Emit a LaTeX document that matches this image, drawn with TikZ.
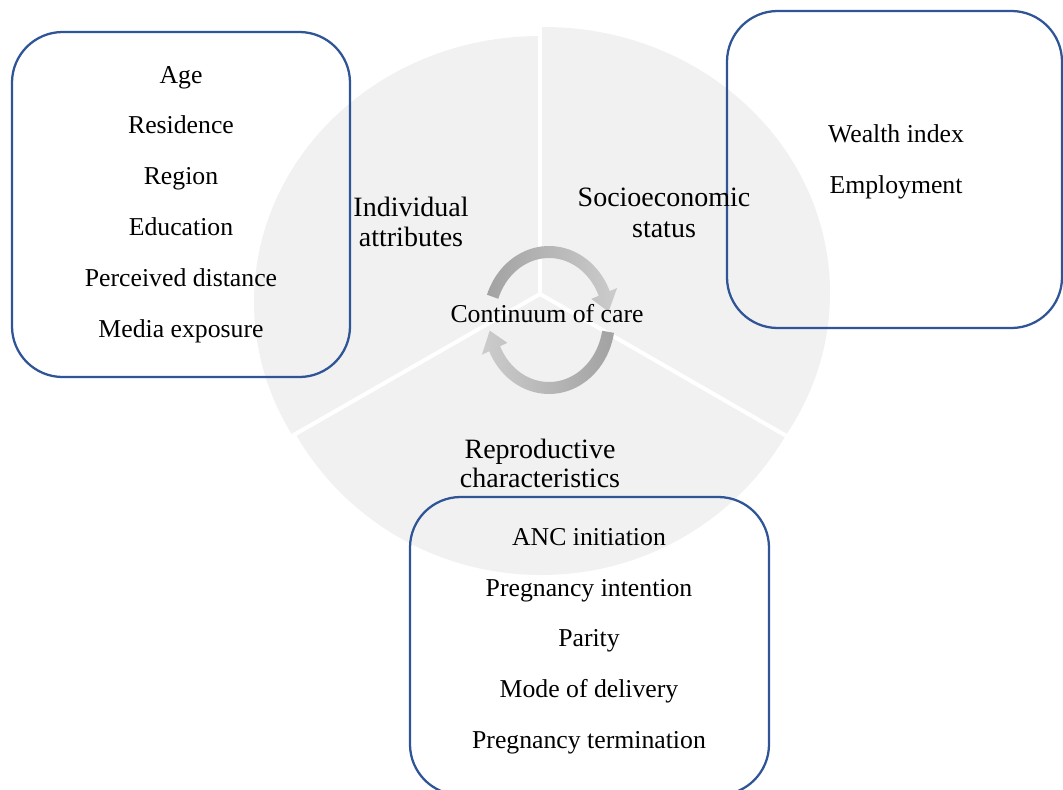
\documentclass[tikz,border=0pt]{standalone}
\usepackage{fontspec}
\setmainfont{Liberation Serif}
\definecolor{pie}{RGB}{241,241,241}
\definecolor{frame}{RGB}{47,85,151}
\definecolor{arrowdark}{RGB}{162,162,162}
\definecolor{arrowlight}{RGB}{204,204,204}

\begin{document}
\begin{tikzpicture}[x=0.75pt,y=-0.75pt,
  factorbox/.style={draw=frame, line width=1.7pt, rounded corners=38pt, inner sep=0pt},
  item/.style={anchor=base, font=\fontsize{19.3}{23}\selectfont, inner sep=0pt},
  sectorlabel/.style={anchor=base, font=\fontsize{21}{25}\selectfont, inner sep=0pt},
  divider/.style={white, line width=3pt},
]
\useasboundingbox (0,0) rectangle (1063,789);

% pie centre and divider ends
\coordinate (apex) at (540,294);
\coordinate (topend) at (540,0);
\coordinate (leftend) at (250,460);
\coordinate (rightend) at (830,461);

% three sectors of the pie
\begin{scope}
  \clip (apex) -- (540,-200) -- (-200,-200) -- (-200,721) -- cycle;
  \fill[pie] (540,302) ellipse [x radius=286, y radius=266];
\end{scope}
\begin{scope}
  \clip (apex) -- (540,-200) -- (1300,-200) -- (1300,733) -- cycle;
  \fill[pie] (544,293) ellipse [x radius=286, y radius=266];
\end{scope}
\begin{scope}
  \clip (apex) -- (-200,721) -- (-200,1200) -- (1300,1200) -- (1300,733) -- cycle;
  \fill[pie] (541,300) ellipse [x radius=281, y radius=275];
\end{scope}
\draw[divider] (apex) -- (topend);
\draw[divider] (apex) -- (leftend);
\draw[divider] (apex) -- (rightend);

% circular arrows around the centre
\shade[left color=arrowdark, right color=arrowlight]
  plot[domain=200:337, samples=40] ({549+66*cos(\x)}, {320+74*sin(\x)})
  -- ({549+74*cos(337)}, {320+82*sin(337)})
  -- ({549+60*cos(353)}, {320+68*sin(353)})
  -- ({549+46*cos(337)}, {320+54*sin(337)})
  -- plot[domain=337:200, samples=40] ({549+54*cos(\x)}, {320+62*sin(\x)})
  -- cycle;
\shade[left color=arrowlight, right color=arrowdark]
  plot[domain=10:155, samples=40] ({549+66*cos(\x)}, {320+74*sin(\x)})
  -- ({549+74*cos(155)}, {320+82*sin(155)})
  -- ({549+60*cos(171)}, {320+68*sin(171)})
  -- ({549+46*cos(155)}, {320+54*sin(155)})
  -- plot[domain=155:10, samples=40] ({549+54*cos(\x)}, {320+62*sin(\x)})
  -- cycle;

\node[item] (core) at (547,322) {Continuum of care};

% factor boxes
\node[factorbox, minimum width=253.5pt, minimum height=258.75pt] (indbox) at (181,204.5) {};
\node[factorbox, minimum width=251.25pt, minimum height=237.75pt] (socbox) at (894.5,169.5) {};
\node[factorbox, minimum width=269.25pt, minimum height=223.5pt] (repbox) at (589.5,646) {};

% sector labels
\node[sectorlabel] (ind1) at (411,216) {Individual};
\node[sectorlabel] (ind2) at (411,246) {attributes};
\node[sectorlabel] (soc1) at (664,206) {Socioeconomic};
\node[sectorlabel] (soc2) at (664,237) {status};
\node[sectorlabel] (rep1) at (540,458) {Reproductive};
\node[sectorlabel] (rep2) at (540,487) {characteristics};

% individual attributes
\node[item] (age) at (181,83) {Age};
\node[item] (res) at (181,133) {Residence};
\node[item] (reg) at (181,184) {Region};
\node[item] (edu) at (181,235) {Education};
\node[item] (dist) at (181,286) {Perceived distance};
\node[item] (media) at (181,337) {Media exposure};

% socioeconomic status
\node[item] (wealth) at (896,142) {Wealth index};
\node[item] (empl) at (896,193) {Employment};

% reproductive characteristics
\node[item] (anc) at (589,545) {ANC initiation};
\node[item] (intent) at (589,596) {Pregnancy intention};
\node[item] (parity) at (589,646) {Parity};
\node[item] (mode) at (589,697) {Mode of delivery};
\node[item] (term) at (589,748) {Pregnancy termination};
\end{tikzpicture}
\end{document}
